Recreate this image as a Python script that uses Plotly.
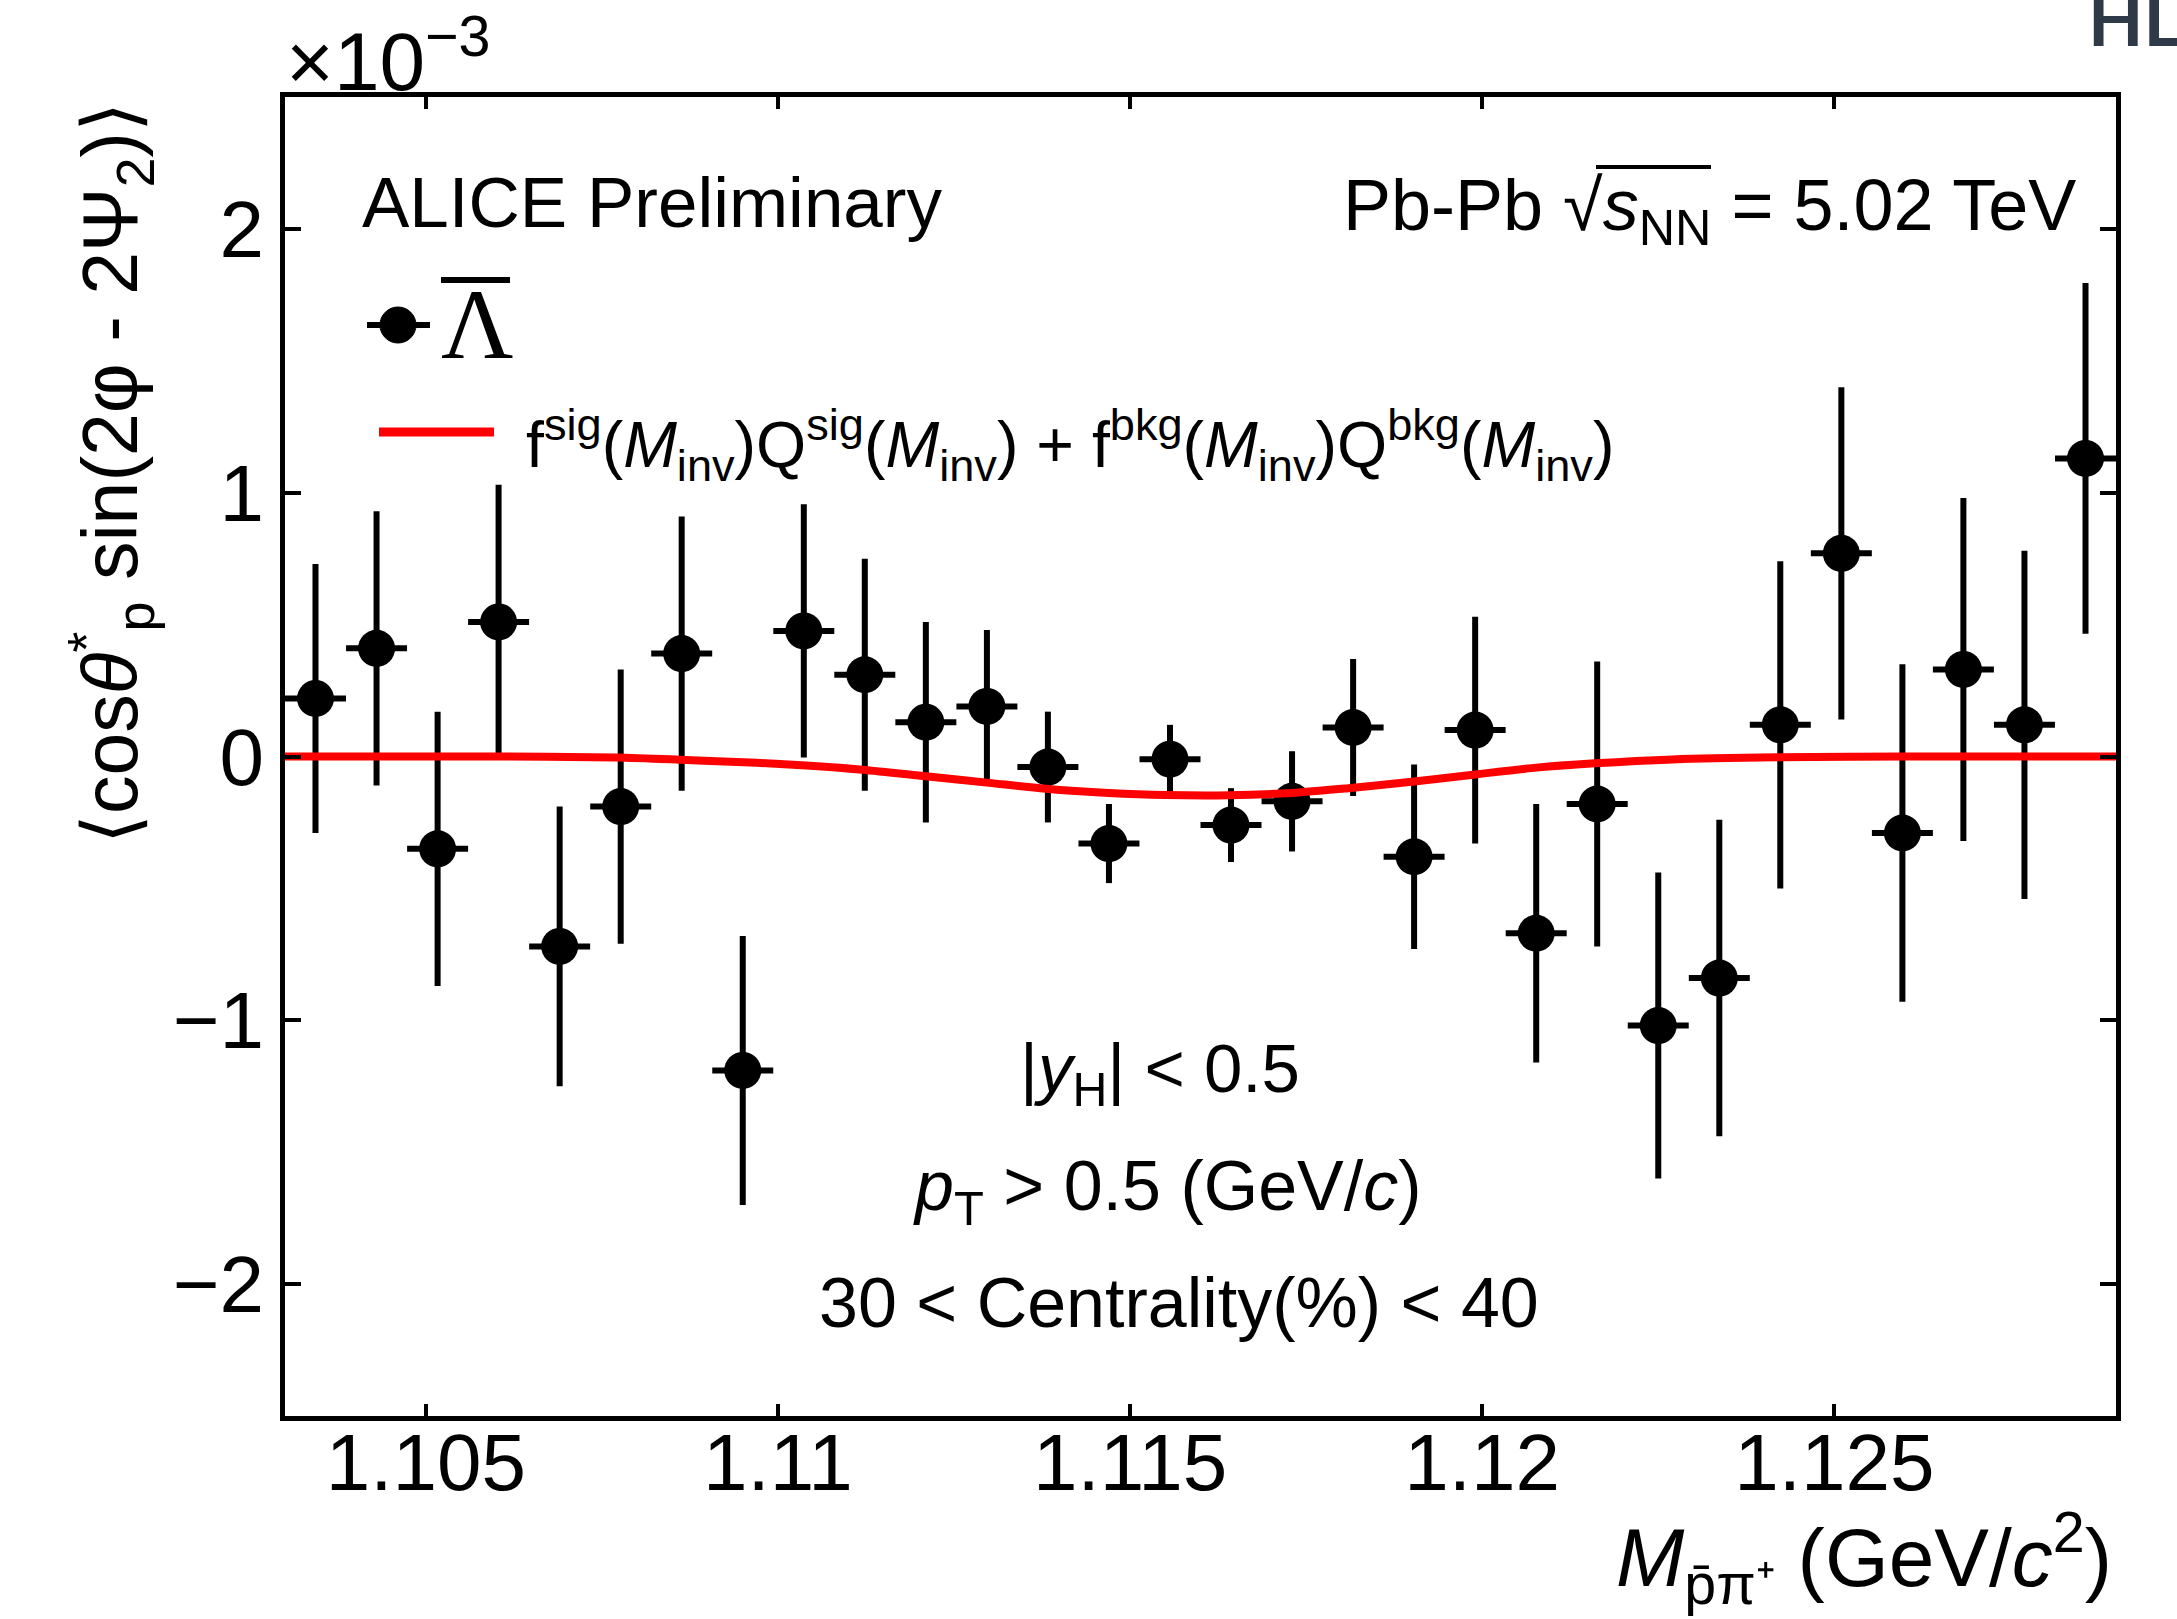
import plotly.graph_objects as go

# ---------------- data (values in units of 1e-3) ----------------
m_inv = [1.103433, 1.104300, 1.105167, 1.106033, 1.106900, 1.107767, 1.108633, 1.109500,
         1.110367, 1.111233, 1.112100, 1.112967, 1.113833, 1.114700, 1.115567, 1.116433,
         1.117300, 1.118167, 1.119033, 1.119900, 1.120767, 1.121633, 1.122500, 1.123367,
         1.124233, 1.125100, 1.125967, 1.126833, 1.127700, 1.128567]
corr = [0.22, 0.41, -0.35, 0.51, -0.72, -0.19, 0.39, -1.19,
        0.476, 0.31, 0.13, 0.19, -0.04, -0.33, -0.01, -0.26,
        -0.17, 0.11, -0.38, 0.10, -0.67, -0.18, -1.02, -0.84,
        0.12, 0.77, -0.29, 0.33, 0.12, 1.13]
corr_err = [0.51, 0.52, 0.52, 0.52, 0.53, 0.52, 0.52, 0.51,
            0.48, 0.44, 0.38, 0.29, 0.21, 0.15, 0.13, 0.14,
            0.19, 0.26, 0.35, 0.43, 0.49, 0.54, 0.58, 0.60,
            0.62, 0.63, 0.64, 0.65, 0.66, 0.665]
bin_half_width = 0.000433

fit_m = [1.1030, 1.1060, 1.1077, 1.1086, 1.1097, 1.1104, 1.1112, 1.1121, 1.1130, 1.1138,
         1.1147, 1.1155, 1.1164, 1.1173, 1.1181, 1.1190, 1.1199, 1.1207, 1.1216, 1.1227,
         1.1242, 1.1260, 1.1290]
fit_val = [0.0, 0.0, -0.004, -0.012, -0.024, -0.034, -0.050, -0.075, -0.100, -0.122,
           -0.138, -0.146, -0.147, -0.138, -0.120, -0.096, -0.068, -0.044, -0.026, -0.011,
           -0.003, 0.0, 0.0]

x_tickvals = [1.105, 1.11, 1.115, 1.12, 1.125]
x_ticktext = ["1.105", "1.11", "1.115", "1.12", "1.125"]
y_tickvals = [-2, -1, 0, 1, 2]
y_ticktext = ["\u22122", "\u22121", "0", "1", "2"]

# ---------------- geometry ----------------
W, H = 2177, 1619
L, R, T, B = 285, 2116, 97, 1416
SANS = "Liberation Sans, Arial, Helvetica, sans-serif"


def px(x):
    return (x - L) / (R - L)


def py(y):
    return (B - y) / (B - T)


fig = go.Figure()

fig.add_trace(go.Scatter(
    x=m_inv, y=corr, mode="markers",
    marker=dict(symbol="circle", size=37, color="black"),
    error_y=dict(type="data", array=corr_err, visible=True, color="black",
                 thickness=6, width=0),
    error_x=dict(type="constant", value=bin_half_width, visible=True, color="black",
                 thickness=6, width=0),
    showlegend=False, hoverinfo="skip"))

fig.add_trace(go.Scatter(
    x=fit_m, y=fit_val, mode="lines",
    line=dict(color="#ff0000", width=8, shape="spline", smoothing=0.8),
    showlegend=False, hoverinfo="skip"))

axis_common = dict(showline=True, linewidth=5, linecolor="black", mirror="ticks",
                   ticks="inside", tickcolor="black", tickwidth=4,
                   showgrid=False, zeroline=False,
                   tickfont=dict(family=SANS, size=80, color="black"))

fig.update_layout(
    width=W, height=H, autosize=False,
    margin=dict(l=L, r=W - R, t=T, b=H - B, pad=0),
    paper_bgcolor="white", plot_bgcolor="white",
    xaxis=dict(range=[1.103, 1.129], tickvals=x_tickvals, ticktext=x_ticktext,
               ticklen=12, ticklabelstandoff=-27, **axis_common),
    yaxis=dict(range=[-2.5, 2.5], tickvals=y_tickvals, ticktext=y_ticktext,
               ticklen=16, ticklabelstandoff=0, **axis_common),
)

ann = []


def text(t, x, y, size, xanchor="left", yanchor="middle", family=SANS, color="black",
         angle=0):
    ann.append(dict(text=t, x=px(x), y=py(y), xref="paper", yref="paper",
                    xanchor=xanchor, yanchor=yanchor, showarrow=False,
                    textangle=angle, font=dict(family=family, size=size, color=color)))


# exponent of the y axis
text("\u00d710<sup>\u22123</sup>", 284, 56, 82)
# y axis title
text("\u27e8cos<i>\u03b8</i><sup>*</sup><sub>p</sub> sin(2\u03c6 - 2\u03a8<sub>2</sub>)\u27e9",
     110, 100, 77, xanchor="center", yanchor="top", angle=-90)
# x axis title
text("<i>M</i><sub>p\u0304\u03c0\u207a</sub> (GeV/<i>c</i><sup>2</sup>)", 2114, 1558, 82,
     xanchor="right")
# labels
text("ALICE Preliminary", 360, 202, 71)
text("Pb-Pb \u221a<i>s</i><sub>NN</sub> = 5.02 TeV", 2078, 210, 72, xanchor="right")
text("\u039b", 439, 324, 100, family="Liberation Serif, Times New Roman, serif")
text("f<sup>sig</sup>(<i>M</i><sub>inv</sub>)Q<sup>sig</sup>(<i>M</i><sub>inv</sub>) + "
     "f<sup>bkg</sup>(<i>M</i><sub>inv</sub>)Q<sup>bkg</sup>(<i>M</i><sub>inv</sub>)",
     524, 445, 64.5)
text("|<i>y</i><sub>H</sub>| < 0.5", 1160, 1073, 69, xanchor="center")
text("<i>p</i><sub>T</sub> > 0.5 (GeV/<i>c</i>)", 1167, 1191, 70, xanchor="center")
text("30 < Centrality(%) < 40", 1179, 1303, 70, xanchor="center")
# clipped header fragment at the top-right corner
text("<b>HL</b>", 2086, 18, 72, family="Lato, Open Sans, sans-serif", color="#2e3a48")

fig.update_layout(annotations=ann)

shapes = []


def seg(x0, y0, x1, y1, color="black", width=6):
    shapes.append(dict(type="line", xref="paper", yref="paper",
                       x0=px(x0), y0=py(y0), x1=px(x1), y1=py(y1),
                       line=dict(color=color, width=width)))


# legend: marker with bin-width bar
seg(367, 325, 430, 325)
shapes.append(dict(type="circle", xref="paper", yref="paper",
                   x0=px(380), x1=px(416), y0=py(307), y1=py(343),
                   fillcolor="black", line=dict(color="black", width=1)))
# bar over Lambda
seg(441, 280, 510, 280, width=6)
# legend: red curve
seg(379, 432, 494, 432, color="#ff0000", width=9)
# vinculum of the square root
seg(1596, 167, 1711, 167, width=4)

fig.update_layout(shapes=shapes)

fig.write_html("out.html")
